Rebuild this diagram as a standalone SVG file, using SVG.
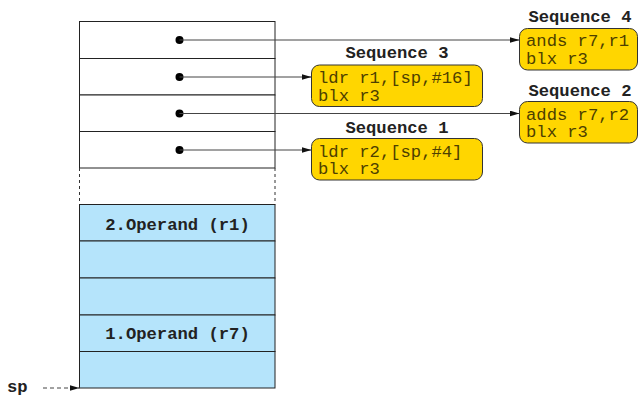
<svg xmlns="http://www.w3.org/2000/svg" width="640" height="398" viewBox="0 0 640 398">
<defs>
<style>
.cell{fill:#ffffff;stroke:#222;stroke-width:1}
.blue{fill:#b5e4fb;stroke:#222;stroke-width:1}
.seq{fill:#ffd600;stroke:#333;stroke-width:1}
.code{font-family:"Liberation Mono",monospace;font-size:17.2px;fill:#4d4000}
.lbl{font-family:"Liberation Mono",monospace;font-size:17.2px;font-weight:bold;fill:#222}
.con{stroke:#444;stroke-width:1;fill:none}
</style>
<marker id="ah" viewBox="0 0 10 6" refX="10" refY="3" markerWidth="10" markerHeight="6" markerUnits="userSpaceOnUse" orient="auto">
<path d="M0,0 L10,3 L0,6 Z" fill="#111"/>
</marker>
</defs>
<g id="stack-top">
<rect class="cell" x="79.5" y="21.5" width="195.5" height="37"/>
<rect class="cell" x="79.5" y="58.5" width="195.5" height="36.5"/>
<rect class="cell" x="79.5" y="95" width="195.5" height="36.5"/>
<rect class="cell" x="79.5" y="131.5" width="195.5" height="36.5"/>
<line x1="79.5" y1="168" x2="79.5" y2="204.5" stroke="#333" stroke-dasharray="3,3"/>
<line x1="275" y1="168" x2="275" y2="204.5" stroke="#333" stroke-dasharray="3,3"/>
<circle cx="179.5" cy="40" r="4" fill="#000"/>
<circle cx="179.5" cy="77" r="4" fill="#000"/>
<circle cx="179.5" cy="113.5" r="4" fill="#000"/>
<circle cx="179.5" cy="150" r="4" fill="#000"/>
</g>
<g id="stack-bottom">
<rect class="blue" x="79.5" y="204.5" width="195.5" height="36.5"/>
<rect class="blue" x="79.5" y="241" width="195.5" height="37"/>
<rect class="blue" x="79.5" y="278" width="195.5" height="37"/>
<rect class="blue" x="79.5" y="315" width="195.5" height="36.5"/>
<rect class="blue" x="79.5" y="351.5" width="195.5" height="36.5"/>
<text class="lbl" x="177.5" y="229.5" text-anchor="middle">2.Operand (r1)</text>
<text class="lbl" x="177.5" y="339" text-anchor="middle">1.Operand (r7)</text>
</g>
<g id="sp">
<text class="lbl" x="7" y="392">sp</text>
</g>
<g id="seq4">
<text class="lbl" x="580" y="22" text-anchor="middle">Sequence 4</text>
<rect class="seq" x="519.5" y="28.5" width="118" height="41.5" rx="8"/>
<text class="code" x="526" y="46">ands r7,r1</text>
<text class="code" x="526" y="64">blx r3</text>
</g>
<g id="seq3">
<text class="lbl" x="397" y="57.5" text-anchor="middle">Sequence 3</text>
<rect class="seq" x="311.5" y="65" width="171" height="41.5" rx="8"/>
<text class="code" x="318" y="83">ldr r1,[sp,#16]</text>
<text class="code" x="318" y="100.5">blx r3</text>
</g>
<g id="seq2">
<text class="lbl" x="580" y="95.5" text-anchor="middle">Sequence 2</text>
<rect class="seq" x="519.5" y="101.5" width="118" height="41.5" rx="8"/>
<text class="code" x="526" y="119.5">adds r7,r2</text>
<text class="code" x="526" y="137">blx r3</text>
</g>
<g id="seq1">
<text class="lbl" x="397" y="132.5" text-anchor="middle">Sequence 1</text>
<rect class="seq" x="311.5" y="138.5" width="171" height="41.5" rx="8"/>
<text class="code" x="318" y="156.5">ldr r2,[sp,#4]</text>
<text class="code" x="318" y="174">blx r3</text>
</g>
<g id="connectors">
<line class="con" x1="179.5" y1="40" x2="519.5" y2="40" marker-end="url(#ah)"/>
<line class="con" x1="179.5" y1="77" x2="311.5" y2="77" marker-end="url(#ah)"/>
<line class="con" x1="179.5" y1="113.5" x2="519.5" y2="113.5" marker-end="url(#ah)"/>
<line class="con" x1="179.5" y1="150" x2="311.5" y2="150" marker-end="url(#ah)"/>
<line class="con" x1="43" y1="388" x2="79.5" y2="388" stroke-dasharray="4,3" marker-end="url(#ah)"/>
</g>
</svg>
